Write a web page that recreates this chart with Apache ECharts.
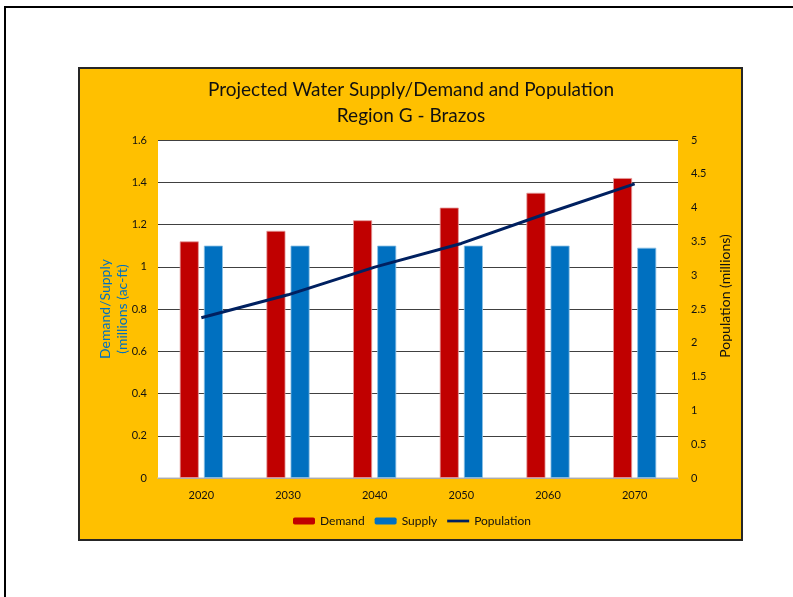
<!DOCTYPE html>
<html>
<head>
<meta charset="utf-8">
<script src="https://cdn.jsdelivr.net/npm/echarts@6/dist/echarts.min.js"></script>
<style>
  html, body { margin: 0; padding: 0; background: #ffffff; width: 793px; height: 597px; overflow: hidden; }
  #frame { position: absolute; left: 4px; top: 6px; width: 900px; height: 700px; border: 2px solid #000; }
  #panel { position: absolute; left: 78px; top: 67px; width: 661px; height: 470px; background: #FFC000; border: 2px solid #262626; }
  #chart { position: absolute; left: 0; top: 0; width: 793px; height: 597px; }
</style>
</head>
<body>
<div id="frame"></div>
<div id="panel"></div>
<div id="chart"></div>
<script>
// Region G (Brazos) projections by decade
const years = ['2020', '2030', '2040', '2050', '2060', '2070'];
const demand = [1.12, 1.17, 1.22, 1.28, 1.35, 1.42];      // millions ac-ft
const supply = [1.10, 1.10, 1.10, 1.10, 1.10, 1.09];      // millions ac-ft
const population = [2.37, 2.71, 3.12, 3.47, 3.92, 4.35];  // millions

const FONT = 'Lato, "Open Sans", sans-serif';

const chart = echarts.init(document.getElementById('chart'), null, { renderer: 'canvas' });

chart.setOption({
  animation: false,
  textStyle: { fontFamily: FONT },
  title: {
    text: 'Projected Water Supply/Demand and Population\nRegion G - Brazos',
    left: 411,
    top: 77,
    textAlign: 'center',
    padding: 0,
    textStyle: {
      fontFamily: FONT,
      fontSize: 19,
      fontWeight: 'normal',
      color: '#111',
      lineHeight: 26
    }
  },
  legend: {
    left: 293,
    top: 515,
    padding: 0,
    itemWidth: 22,
    itemHeight: 7,
    itemGap: 10,
    textStyle: { fontFamily: FONT, fontSize: 12, color: '#111' },
    itemStyle: { borderWidth: 0 },
    data: [
      { name: 'Demand' },
      { name: 'Supply' },
      { name: 'Population', icon: 'path://M0,0H24V3H0Z', itemStyle: { color: '#002060', borderWidth: 0 } }
    ]
  },
  grid: {
    left: 158,
    top: 140,
    width: 520,
    height: 338,
    show: true,
    backgroundColor: '#ffffff',
    borderWidth: 0
  },
  xAxis: {
    type: 'category',
    data: years,
    axisTick: { show: false },
    axisLine: { show: true, lineStyle: { color: '#d0d0d0', width: 1.5 } },
    axisLabel: { fontFamily: FONT, fontSize: 11, color: '#111', margin: 12 }
  },
  yAxis: [
    {
      type: 'value',
      min: 0,
      max: 1.6,
      interval: 0.2,
      name: 'Demand/Supply\n(millions (ac-ft)',
      nameLocation: 'middle',
      nameRotate: 90,
      nameGap: 27,
      nameMoveOverlap: false,
      nameTextStyle: { fontFamily: FONT, fontSize: 14, color: '#0070C0', lineHeight: 17 },
      axisLine: { show: false },
      axisTick: { show: false },
      axisLabel: {
        fontFamily: FONT, fontSize: 11, color: '#111', margin: 11,
        formatter: v => String(+v.toFixed(1))
      },
      splitLine: { show: true, lineStyle: { color: '#404040', width: 1 } }
    },
    {
      type: 'value',
      min: 0,
      max: 5,
      interval: 0.5,
      name: 'Population (millions)',
      nameLocation: 'middle',
      nameRotate: 90,
      nameGap: 40,
      nameTextStyle: { fontFamily: FONT, fontSize: 14, color: '#111', padding: [0, 0, 0, 26] },
      axisLine: { show: false },
      axisTick: { show: false },
      axisLabel: {
        fontFamily: FONT, fontSize: 11, color: '#111', margin: 13,
        formatter: v => String(+v.toFixed(1))
      },
      splitLine: { show: false }
    }
  ],
  series: [
    {
      name: 'Demand',
      type: 'bar',
      yAxisIndex: 0,
      data: demand,
      barWidth: 19,
      barGap: '27%',
      itemStyle: { color: '#C00000', borderColor: '#E39A9A', borderWidth: 0.8 }
    },
    {
      name: 'Supply',
      type: 'bar',
      yAxisIndex: 0,
      data: supply,
      barWidth: 19,
      barGap: '27%',
      itemStyle: { color: '#0070C0', borderColor: '#8CC0E4', borderWidth: 0.8 }
    },
    {
      name: 'Population',
      type: 'line',
      yAxisIndex: 1,
      data: population,
      symbol: 'none',
      lineStyle: { color: '#002060', width: 3 },
      itemStyle: { color: '#002060' },
      z: 5
    }
  ]
});
</script>
</body>
</html>
